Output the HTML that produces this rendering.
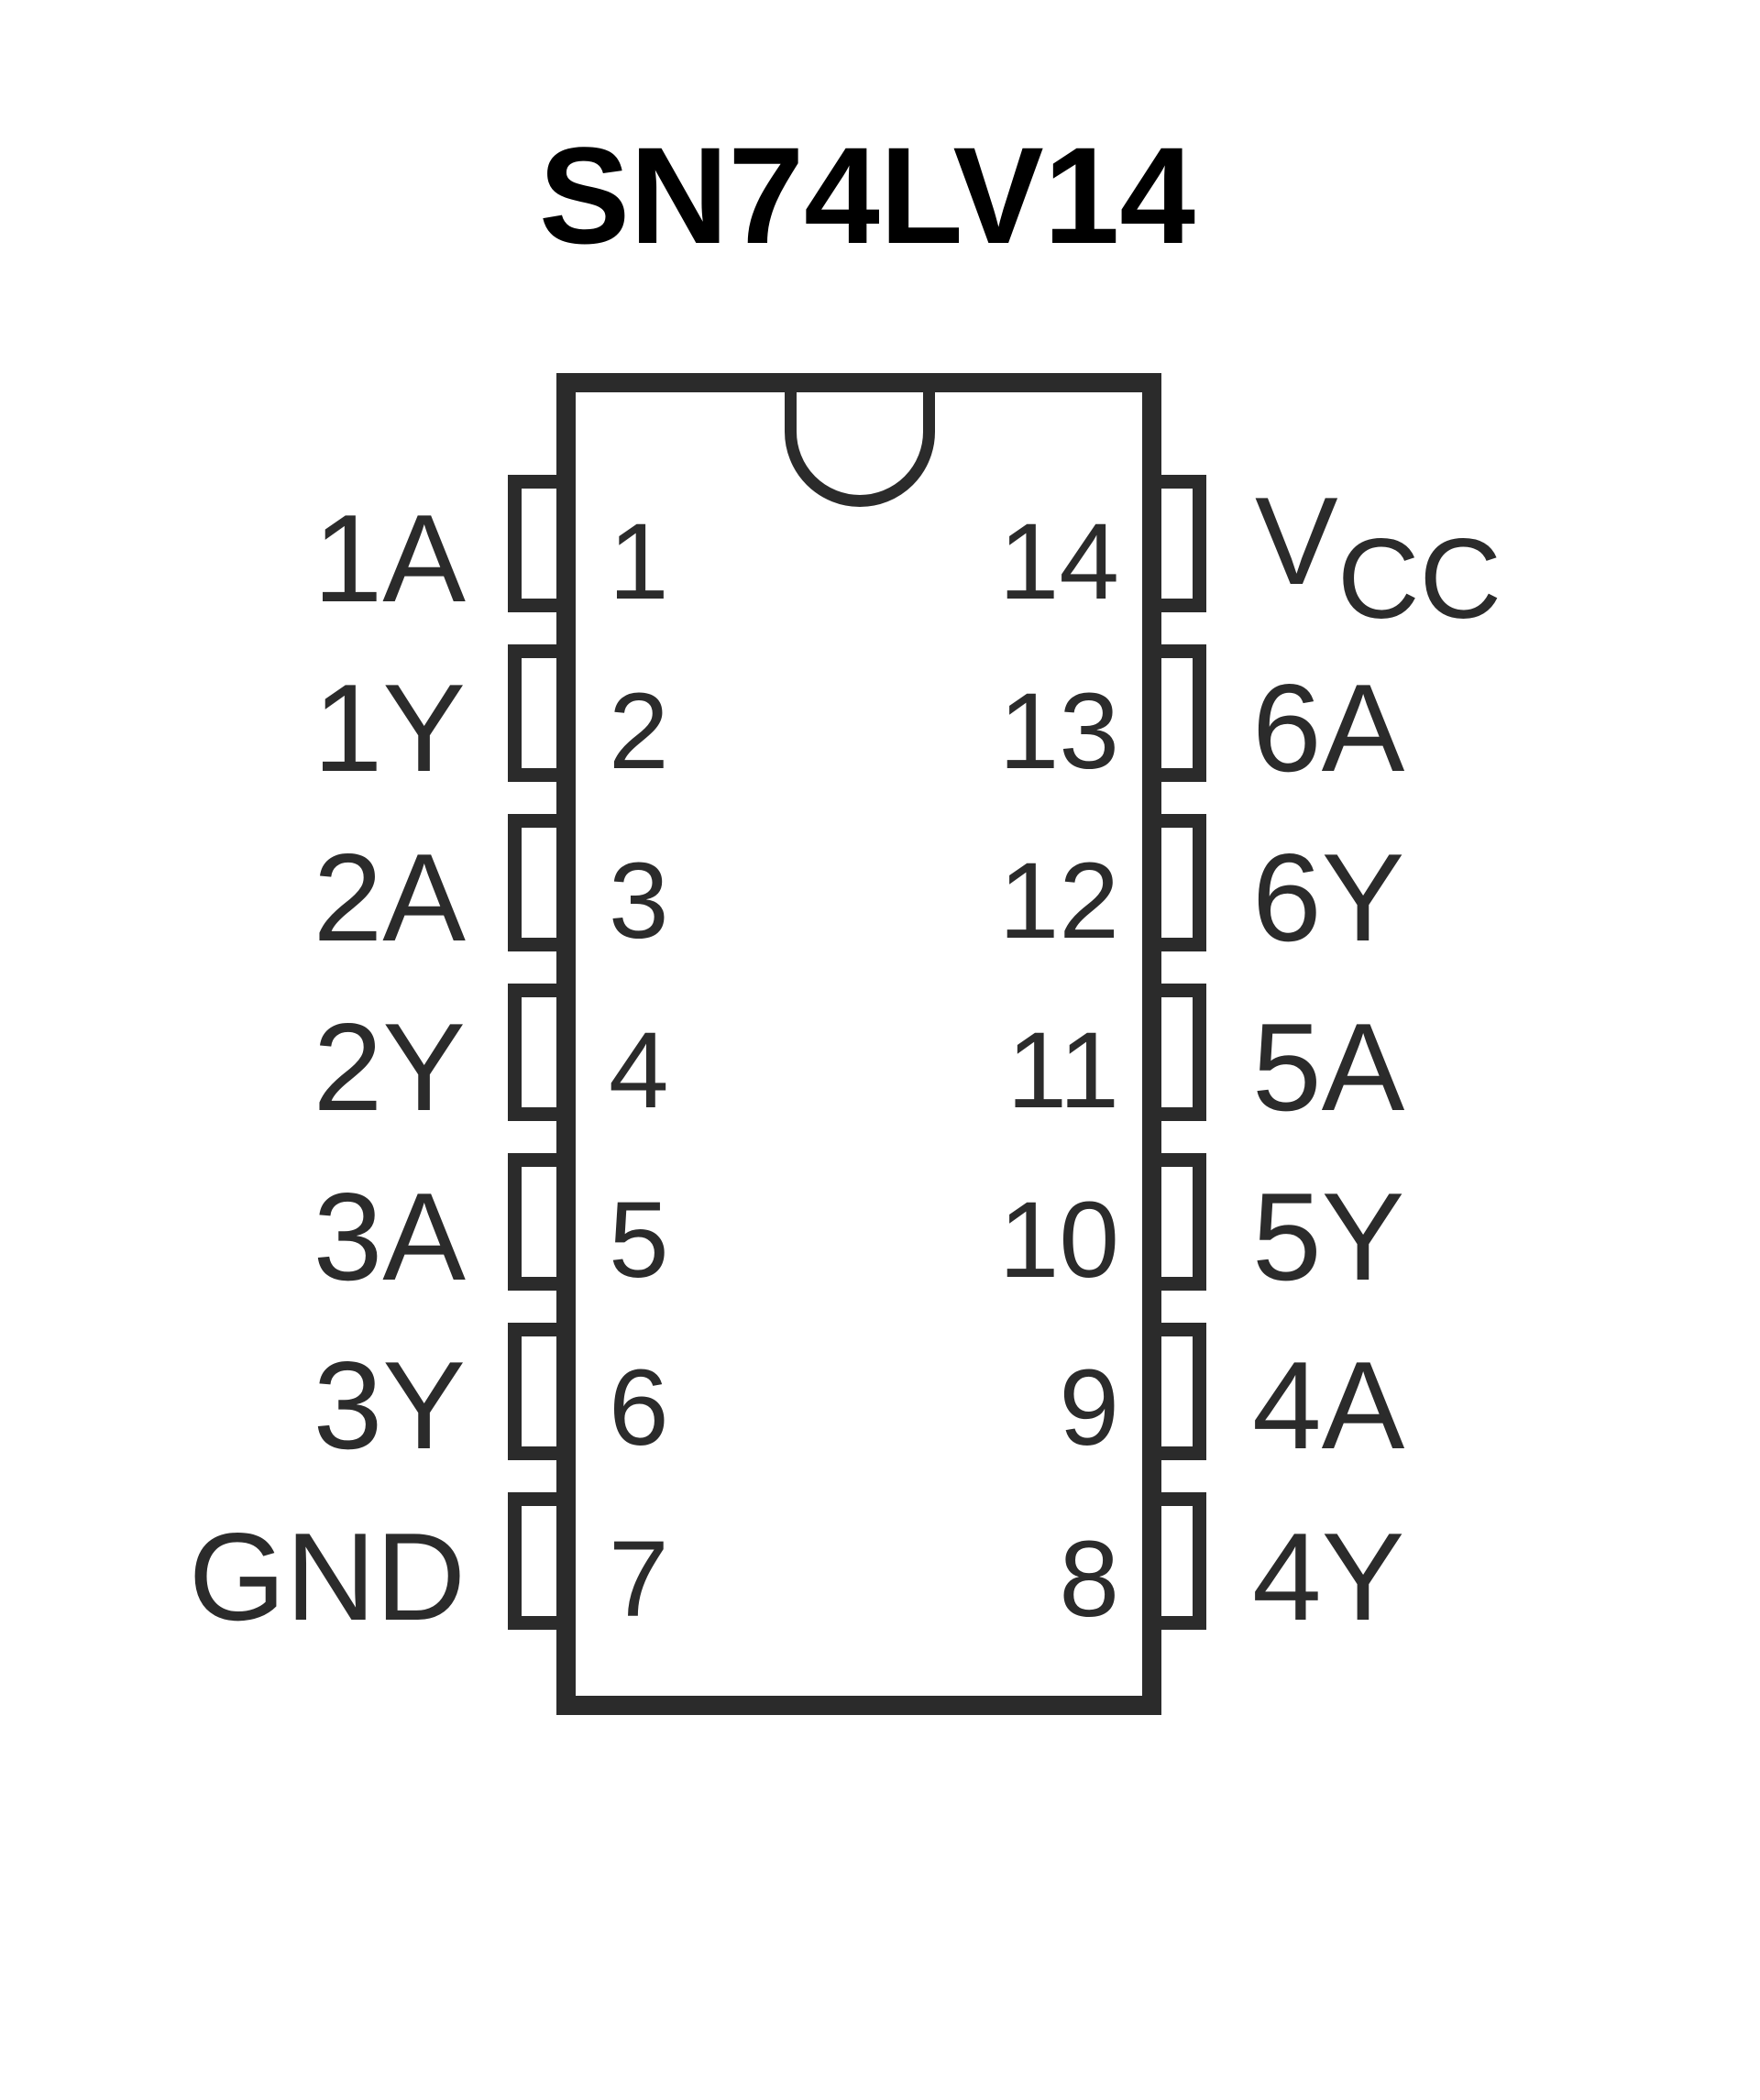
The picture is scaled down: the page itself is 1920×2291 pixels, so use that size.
<!DOCTYPE html>
<html><head><meta charset="utf-8"><style>
html,body{margin:0;padding:0;background:#fff;}
svg{display:block;}
</style></head><body>
<svg width="1920" height="2291" viewBox="0 0 1920 2291" xmlns="http://www.w3.org/2000/svg">
<rect width="1920" height="2291" fill="#fff"/>
<text x="946" y="265" font-family="Liberation Sans, sans-serif" font-weight="bold" font-size="150" text-anchor="middle" textLength="716" lengthAdjust="spacingAndGlyphs" fill="#000">SN74LV14</text>
<g fill="none" stroke="#2b2b2b">
  <g stroke-width="15">
    <rect x="561.5" y="525.5" width="60" height="135"/>
    <rect x="561.5" y="710.5" width="60" height="135"/>
    <rect x="561.5" y="895.5" width="60" height="135"/>
    <rect x="561.5" y="1080.5" width="60" height="135"/>
    <rect x="561.5" y="1265.5" width="60" height="135"/>
    <rect x="561.5" y="1450.5" width="60" height="135"/>
    <rect x="561.5" y="1635.5" width="60" height="135"/>
    <rect x="1250" y="525.5" width="58.5" height="135"/>
    <rect x="1250" y="710.5" width="58.5" height="135"/>
    <rect x="1250" y="895.5" width="58.5" height="135"/>
    <rect x="1250" y="1080.5" width="58.5" height="135"/>
    <rect x="1250" y="1265.5" width="58.5" height="135"/>
    <rect x="1250" y="1450.5" width="58.5" height="135"/>
    <rect x="1250" y="1635.5" width="58.5" height="135"/>
  </g>
  <rect x="617.5" y="417.5" width="639" height="1443" stroke-width="21" fill="#fff"/>
  <path d="M862.5,428 V471 A75.5,75.5 0 0 0 1013.5,471 V428" stroke-width="13"/>
</g>
<g font-family="Liberation Sans, sans-serif" fill="#2b2b2b">
  <g font-size="136" text-anchor="end">
    <text x="508" y="656">1A</text>
    <text x="508" y="841">1Y</text>
    <text x="508" y="1026">2A</text>
    <text x="508" y="1211">2Y</text>
    <text x="508" y="1396">3A</text>
    <text x="508" y="1580">3Y</text>
    <text x="508" y="1767">GND</text>
  </g>
  <g font-size="118">
    <text x="664" y="653">1</text>
    <text x="664" y="838">2</text>
    <text x="664" y="1023">3</text>
    <text x="664" y="1208">4</text>
    <text x="664" y="1393">5</text>
    <text x="664" y="1576">6</text>
    <text x="664" y="1763">7</text>
  </g>
  <g font-size="118" text-anchor="end">
    <text x="1221" y="653">14</text>
    <text x="1221" y="838">13</text>
    <text x="1221" y="1023">12</text>
    <text x="1221" y="1208">11</text>
    <text x="1221" y="1393">10</text>
    <text x="1221" y="1576">9</text>
    <text x="1221" y="1763">8</text>
  </g>
  <g font-size="136">
    <text x="1369" y="637">V</text>
    <text x="1459" y="674" font-size="124">CC</text>
    <text x="1366" y="841">6A</text>
    <text x="1366" y="1026">6Y</text>
    <text x="1366" y="1211">5A</text>
    <text x="1366" y="1396">5Y</text>
    <text x="1366" y="1580">4A</text>
    <text x="1366" y="1767">4Y</text>
  </g>
</g>
</svg>
</body></html>
